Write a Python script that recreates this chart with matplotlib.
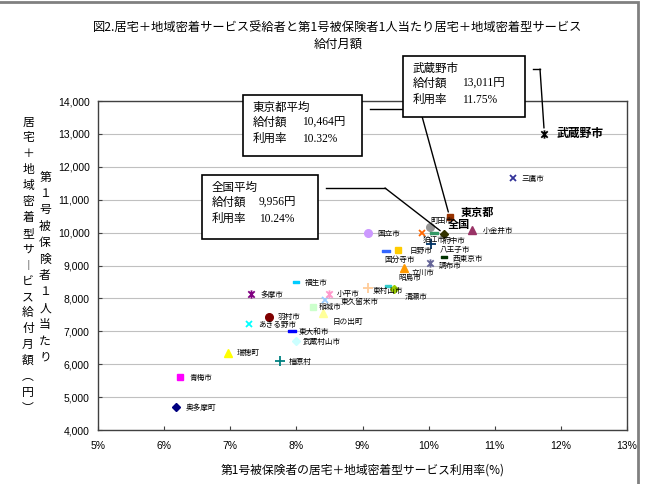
import matplotlib
matplotlib.use("Agg")
import matplotlib.pyplot as plt
from matplotlib.path import Path
from matplotlib.lines import Line2D
from matplotlib.patches import Rectangle
from matplotlib.ticker import FuncFormatter, MultipleLocator

plt.rcParams['font.family'] = ['Noto Sans CJK JP', 'DejaVu Sans']

W, H = 645, 484

# データ（利用率 %, 給付月額 円）
cities = ["奥多摩町", "青梅市", "瑞穂町", "あきる野市", "多摩市", "羽村市", "檜原村", "東大和市",
          "福生市", "武蔵村山市", "稲城市", "日の出町", "東久留米市", "小平市", "国立市", "東村山市",
          "国分寺市", "昭島市", "清瀬市", "日野市", "立川市", "狛江市", "調布市", "町田市",
          "八王子市", "府中市", "西東京市", "全国", "東京都", "小金井市", "三鷹市", "武蔵野市"]
rates = [6.18, 6.24, 6.97, 7.29, 7.31, 7.58, 7.75, 7.94,
         8.00, 7.99, 8.25, 8.41, 8.44, 8.49, 9.08, 9.08,
         9.36, 9.39, 9.48, 9.54, 9.63, 9.90, 10.02, 10.02,
         10.04, 10.08, 10.23, 10.24, 10.32, 10.66, 11.27, 11.75]
amounts = [4700, 5610, 6340, 7230, 8130, 7420, 6090, 7010,
           8510, 6710, 7730, 7560, 7960, 8140, 9990, 8320,
           9430, 8390, 8300, 9460, 8930, 10000, 9080, 10160,
           9640, 9980, 9270, 9956, 10464, 10070, 11650, 13011]

# 注記ボックス
boxes = {
    "武蔵野市": ("武蔵野市", "13,011円", "11.75%"),
    "東京都": ("東京都平均", "10,464円", "10.32%"),
    "全国": ("全国平均", "9,956円", "10.24%"),
}

# Excel 2003 風の系列色とマーカー
colors = ["#000080", "#FF00FF", "#FFFF00", "#00FFFF", "#800080", "#800000", "#008080", "#0000FF",
          "#00CCFF", "#CCFFFF", "#CCFFCC", "#FFFF99", "#99CCFF", "#FF99CC", "#CC99FF", "#FFCC99",
          "#3366FF", "#33CCCC", "#99CC00", "#FFCC00", "#FF9900", "#FF6600", "#666699", "#969696",
          "#003366", "#339966", "#003300", "#333300", "#993300", "#993366", "#333399", "#000000"]

star = Path([(-1, -1), (1, 1), (-1, 1), (1, -1), (0, -1.3), (0, 1.3)],
            [Path.MOVETO, Path.LINETO, Path.MOVETO, Path.LINETO, Path.MOVETO, Path.LINETO])
bar = Path([(-1, -0.3), (1, -0.3), (1, 0.3), (-1, 0.3), (-1, -0.3)],
           [Path.MOVETO, Path.LINETO, Path.LINETO, Path.LINETO, Path.CLOSEPOLY])
marker_cycle = [("D", 4.5, True), ("s", 5, True), ("^", 5.5, True), ("x", 4.5, False),
                (star, 6, False), ("o", 5.5, True), ("+", 6.5, False), (bar, 5.5, True), (bar, 5, True)]

# ラベル位置（ピクセル単位のずれ）
label_offsets = {
    "奥多摩町": (10, -1), "青梅市": (10, -1), "瑞穂町": (8, 0), "あきる野市": (9, -1),
    "多摩市": (10, -1), "羽村市": (9, 0), "檜原村": (9, -1), "東大和市": (6, -1),
    "福生市": (8, -1), "武蔵村山市": (7, -1), "稲城市": (6, 0), "日の出町": (9, -9),
    "東久留米市": (15, -2), "小平市": (8, 0), "国立市": (10, -1), "東村山市": (5, -3),
    "国分寺市": (-2, -9), "昭島市": (10, 8), "清瀬市": (10, -8), "日野市": (11, -1),
    "立川市": (7, -5), "狛江市": (1, -7), "調布市": (9, -3), "町田市": (0, 6),
    "八王子市": (8, -6), "府中市": (9, -8), "西東京市": (9, -2), "全国": (3, 10),
    "東京都": (11, 5), "小金井市": (11, -1), "三鷹市": (9, -1), "武蔵野市": (12, 0),
}
bold_labels = {"全国": 8, "東京都": 8, "武蔵野市": 8.5}


def fx(x):
    return x / W


def fy(y):
    return 1 - y / H


fig = plt.figure(figsize=(W / 100, H / 100), dpi=100)
ax = fig.add_axes([fx(98), fy(430), (627 - 98) / W, (430 - 101) / H])

ax.set_xlim(5, 13)
ax.set_ylim(4000, 14000)
ax.xaxis.set_major_locator(MultipleLocator(1))
ax.yaxis.set_major_locator(MultipleLocator(1000))
ax.xaxis.set_major_formatter(FuncFormatter(lambda v, p: f"{v:.0f}%"))
ax.yaxis.set_major_formatter(FuncFormatter(lambda v, p: f"{v:,.0f}"))
ax.tick_params(direction="in", length=3, width=0.8, color="#404040", labelsize=7.5)
ax.tick_params(axis="x", pad=8)
ax.tick_params(axis="y", pad=6)
for lab in ax.get_xticklabels() + ax.get_yticklabels():
    lab.set_family(["Liberation Sans", "DejaVu Sans"])
ax.grid(axis="y", color="#c0c0c0", lw=0.8)
ax.set_axisbelow(True)
for s in ax.spines.values():
    s.set_color("#404040")
    s.set_linewidth(1)

for i, (name, r, a) in enumerate(zip(cities, rates, amounts)):
    m, ms, filled = marker_cycle[i % len(marker_cycle)]
    c = colors[i]
    ax.plot([r], [a], linestyle="none", marker=m, ms=ms, mec=c,
            mfc=c if filled else "none", mew=1.0 if filled else 1.3, zorder=3)
    dx, dy = label_offsets.get(name, (8, 0))
    if name in bold_labels:
        ax.annotate(name, (r, a), xytext=(dx, dy), textcoords="offset pixels",
                    ha="left", va="center", fontsize=bold_labels[name], fontweight="bold", zorder=4)
    else:
        ax.annotate(name, (r, a), xytext=(dx, dy), textcoords="offset pixels",
                    ha="left", va="center", fontsize=5.5, zorder=4)

ax.set_xlabel("第1号被保険者の居宅＋地域密着型サービス利用率(%)", fontsize=8.5, labelpad=9)

# タイトル
fig.text(fx(338), fy(27), "図2.居宅＋地域密着サービス受給者と第1号被保険者1人当たり居宅＋地域密着型サービス",
         ha="center", va="center", fontsize=8.8)
fig.text(fx(338), fy(44), "給付月額", ha="center", va="center", fontsize=8.8)

# 縦書きの軸ラベル
col_left = ["居", "宅", "＋", "地", "域", "密", "着", "型", "サ", "︱", "ビ", "ス",
            "給", "付", "月", "額", "︵", "円", "︶"]
col_right = ["第", "１", "号", "被", "保", "険", "者", "１", "人", "当", "た", "り"]
for k, ch in enumerate(col_left):
    fig.text(fx(28), fy(122 + k * 15.9), ch, ha="center", va="center", fontsize=8.5)
for k, ch in enumerate(col_right):
    fig.text(fx(45), fy(177 + k * 16.4), ch, ha="center", va="center", fontsize=8.5)

# 注記ボックスと引き出し線
box_geom = {
    "武蔵野市": (403, 56, 122, 61, (533, 69), (540, 69)),
    "東京都": (243, 95, 119, 61, (370, 109), (420, 109)),
    "全国": (202, 175, 116, 64, (326, 188), (385, 188)),
}
serif = ["Liberation Serif", "Noto Sans CJK JP"]
for key, (x0, y0, bw, bh, p0, p1) in box_geom.items():
    title, amt, rate = boxes[key]
    idx = cities.index(key)
    fig.add_artist(Line2D([fx(p0[0]), fx(p1[0])], [fy(p0[1]), fy(p1[1])],
                          transform=fig.transFigure, color="black", lw=1, zorder=2))
    ax.annotate("", xy=(rates[idx], amounts[idx]), xycoords="data",
                xytext=(p1[0], H - p1[1]), textcoords="figure pixels",
                arrowprops=dict(arrowstyle="-", color="black", lw=1, shrinkA=0, shrinkB=4),
                annotation_clip=False)
    fig.add_artist(Rectangle((fx(x0), fy(y0 + bh)), bw / W, bh / H, transform=fig.transFigure,
                             facecolor="white", edgecolor="black", lw=1.2, zorder=5))
    tx = x0 + 10
    fig.text(fx(tx), fy(y0 + 13), title, ha="left", va="center", fontsize=8.3, family=serif, zorder=6)
    fig.text(fx(tx), fy(y0 + 28), "給付額", ha="left", va="center", fontsize=8.3, family=serif, zorder=6)
    fig.text(fx(tx), fy(y0 + 44), "利用率", ha="left", va="center", fontsize=8.3, family=serif, zorder=6)
    vx = tx + (49 if key != "全国" else 47)
    fig.text(fx(vx), fy(y0 + 28), amt, ha="left", va="center", fontsize=8.3, family=serif, zorder=6)
    fig.text(fx(vx), fy(y0 + 44), rate, ha="left", va="center", fontsize=8.3, family=serif, zorder=6)

# 外枠
fig.add_artist(Rectangle((fx(-5), fy(490)), 643 / W, 488 / H, transform=fig.transFigure,
                         facecolor="none", edgecolor="#808080", lw=2, zorder=1))

fig.savefig("out.png", dpi=100)
